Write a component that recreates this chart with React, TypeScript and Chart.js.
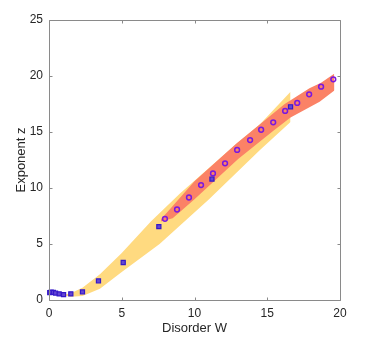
import React, { useEffect, useRef } from "react";
import { Chart, registerables } from "chart.js";

Chart.register(...registerables);

// Square markers (low-disorder series)
const squareW = [0.05, 0.15, 0.3, 0.45, 0.7, 1.0, 1.5, 2.3, 3.4, 5.1, 7.55, 11.2, 16.6];
const squareZ = [0.65, 0.7, 0.68, 0.62, 0.55, 0.48, 0.55, 0.72, 1.7, 3.35, 6.55, 10.8, 17.25];

// Circle markers
const circleW = [7.97, 8.8, 9.62, 10.45, 11.27, 12.1, 12.93, 13.82, 14.58, 15.41, 16.23, 17.06, 17.88, 18.7, 19.54];
const circleZ = [7.25, 8.08, 9.15, 10.26, 11.3, 12.2, 13.4, 14.28, 15.2, 15.86, 16.88, 17.6, 18.36, 19.05, 19.7];

// Yellow band edges
const yellowUpperW = [0.9, 1.5, 2.3, 3.5, 5, 7, 9, 12.4, 14.5, 16.6];
const yellowUpperZ = [0.45, 0.6, 1.1, 2.3, 4.2, 7.0, 9.5, 13.4, 15.7, 18.6];
const yellowLowerW = [0.9, 1.5, 2.3, 3.5, 5, 7.6, 11, 14.5, 16.6];
const yellowLowerZ = [0.45, 0.3, 0.35, 1.0, 2.5, 5.0, 9.0, 13.4, 15.9];

// Red band edges
const redUpperW = [7.7, 10, 12.9, 14.5, 16.2, 17.9, 18.7, 19.6];
const redUpperZ = [7.2, 10.6, 14.0, 15.7, 17.5, 18.9, 19.4, 20.2];
const redLowerW = [7.7, 8.5, 10, 13, 15.4, 16.6, 18.6, 19.7];
const redLowerZ = [7.0, 7.3, 9.0, 12.6, 15.1, 16.3, 17.7, 18.8];

const xTicks = [0, 5, 10, 15, 20];
const yTicks = [0, 5, 10, 15, 20, 25];

const pts = (xs: number[], ys: number[]) => xs.map((x, i) => ({ x, y: ys[i] }));

const YELLOW = "rgb(255,218,128)";
const RED = "rgb(251,130,102)";
const FONT = "'Liberation Sans', Arial, Helvetica, sans-serif";

const boxPlugin = {
  id: "boxTicks",
  afterDatasetsDraw(chart: any) {
    const { ctx, chartArea: a, scales } = chart;
    const xs = scales.x;
    const ys = scales.y;
    ctx.save();
    ctx.strokeStyle = "#8a8a8a";
    ctx.lineWidth = 1;
    const L = Math.round(a.left) + 0.5;
    const R = Math.round(a.right) + 0.5;
    const T = Math.round(a.top) + 0.5;
    const B = Math.round(a.bottom) + 0.5;
    ctx.beginPath();
    ctx.rect(L, T, R - L, B - T);
    const tl = 3;
    xTicks.forEach((v) => {
      const px = Math.round(xs.getPixelForValue(v)) + 0.5;
      ctx.moveTo(px, B);
      ctx.lineTo(px, B - tl);
      ctx.moveTo(px, T);
      ctx.lineTo(px, T + tl);
    });
    yTicks.forEach((v) => {
      const py = Math.round(ys.getPixelForValue(v)) + 0.5;
      ctx.moveTo(L, py);
      ctx.lineTo(L + tl, py);
      ctx.moveTo(R, py);
      ctx.lineTo(R - tl, py);
    });
    ctx.stroke();
    ctx.restore();
  },
};

export default function App() {
  const ref = useRef<HTMLCanvasElement | null>(null);
  useEffect(() => {
    if (!ref.current) return;
    const band = (data: any[], color: string, fill: any, order: number) => ({
      type: "line",
      data,
      borderWidth: 0,
      borderColor: color,
      backgroundColor: color,
      pointRadius: 0,
      fill,
      tension: 0,
      order,
    });
    const chart = new Chart(ref.current, {
      type: "line",
      data: {
        datasets: [
          band(pts(yellowUpperW, yellowUpperZ), YELLOW, false, 4),
          band(pts(yellowLowerW, yellowLowerZ), YELLOW, { target: 0, above: YELLOW, below: YELLOW }, 3),
          band(pts(redUpperW, redUpperZ), RED, false, 2),
          band(pts(redLowerW, redLowerZ), RED, { target: 2, above: RED, below: RED }, 1),
          {
            type: "line",
            data: pts(squareW, squareZ),
            showLine: false,
            pointStyle: "rect",
            pointRadius: 2.9,
            pointBorderWidth: 1.2,
            pointBorderColor: "#3418c8",
            pointBackgroundColor: "#6446d2",
            clip: false,
            order: 0,
          },
          {
            type: "line",
            data: pts(circleW, circleZ),
            showLine: false,
            pointStyle: "circle",
            pointRadius: 2.4,
            pointBorderWidth: 1.5,
            pointBorderColor: "#7a18e0",
            pointBackgroundColor: "rgba(0,0,0,0)",
            clip: false,
            order: 0,
          },
        ] as any,
      },
      options: {
        responsive: false,
        animation: false,
        events: [],
        layout: { padding: { left: 0, right: 34, top: 20, bottom: 0 } },
        plugins: { legend: { display: false }, tooltip: { enabled: false }, filler: { propagate: false } },
        scales: {
          x: {
            type: "linear",
            min: 0,
            max: 20,
            afterFit: (s: any) => {
              s.height = 45;
            },
            grid: { display: false, drawTicks: false },
            border: { display: false },
            ticks: {
              stepSize: 5,
              padding: 6,
              color: "#262626",
              font: { family: FONT, size: 12 },
              maxRotation: 0,
            },
            title: {
              display: true,
              text: "Disorder W",
              color: "#262626",
              font: { family: FONT, size: 13 },
              padding: { top: 0, bottom: 9 },
            },
          },
          y: {
            type: "linear",
            min: 0,
            max: 25,
            afterFit: (s: any) => {
              s.width = 49;
            },
            grid: { display: false, drawTicks: false },
            border: { display: false },
            ticks: {
              stepSize: 5,
              padding: 6,
              color: "#262626",
              font: { family: FONT, size: 12 },
            },
            title: {
              display: true,
              text: "Exponent z",
              color: "#262626",
              font: { family: FONT, size: 13 },
              padding: { top: 14, bottom: 0 },
            },
          },
        },
      },
      plugins: [boxPlugin],
    } as any);
    return () => chart.destroy();
  }, []);
  return (
    <div style={{ position: "absolute", left: 0, top: 0, width: 374, height: 345, background: "#fff" }}>
      <canvas ref={ref} width={374} height={345} style={{ width: 374, height: 345, display: "block" }} />
    </div>
  );
}
